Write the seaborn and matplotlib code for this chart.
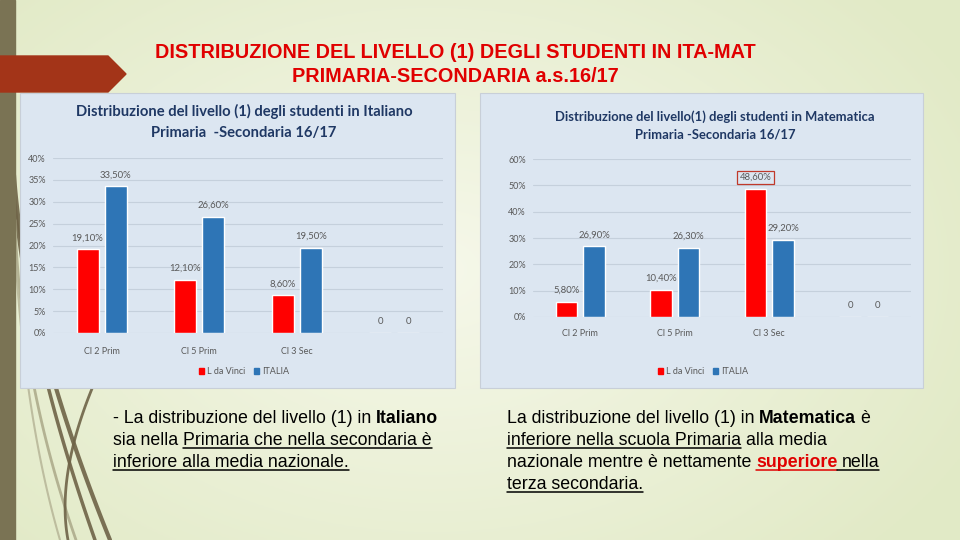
import numpy as np
import pandas as pd
import matplotlib
matplotlib.use("Agg")
import matplotlib.pyplot as plt
import seaborn as sns
from matplotlib.patches import Rectangle, Polygon
from matplotlib.lines import Line2D
from matplotlib.ticker import FuncFormatter, MultipleLocator

# ---- data ----
categories = ["Cl 2 Prim", "Cl 5 Prim", "Cl 3 Sec", ""]
series_names = ["L da Vinci", "ITALIA"]

ita_school = [19.1, 12.1, 8.6, 0]
ita_italia = [33.5, 26.6, 19.5, 0]

mat_school = [5.8, 10.4, 48.6, 0]
mat_italia = [26.9, 26.3, 29.2, 0]

ita_title = "Distribuzione del livello (1) degli studenti in Italiano\nPrimaria  -Secondaria 16/17"
mat_title = "Distribuzione del livello(1) degli studenti in Matematica\nPrimaria -Secondaria 16/17"

slide_title = ["DISTRIBUZIONE DEL LIVELLO (1) DEGLI STUDENTI IN ITA-MAT",
               "PRIMARIA-SECONDARIA a.s.16/17"]

RED = "#ff0000"
BLUE = "#2e75b6"
PANEL = "#dce6f1"
GRAY = "#595959"
NAVY = "#1f3864"

sns.set_theme(style="white")
plt.rcParams["font.family"] = ["Lato", "DejaVu Sans"]

W, H = 960, 540
fig = plt.figure(figsize=(9.6, 5.4), dpi=100)

# background gradient
bg = fig.add_axes([0, 0, 1, 1], zorder=-10)
yy, xx = np.mgrid[0:1:200j, 0:1:360j]
d = np.sqrt(((xx - 0.45) * 1.2) ** 2 + (yy - 0.5) ** 2)
d = np.clip(d / 0.75, 0, 1)
c0 = np.array([0.965, 0.973, 0.918])
c1 = np.array([0.886, 0.918, 0.780])
img = c0[None, None, :] * (1 - d[..., None]) + c1[None, None, :] * d[..., None]
bg.imshow(img, extent=[0, 1, 0, 1], aspect="auto", origin="lower")
bg.set_axis_off()


def fx(px):
    return px / W


def fy(py):
    return 1 - py / H


# left olive strip and red arrow
fig.add_artist(Rectangle((0, 0), fx(15), 1, transform=fig.transFigure,
                         color="#7a7354", zorder=2))
fig.add_artist(Polygon([(0, fy(56)), (fx(108), fy(56)), (fx(126), fy(74)),
                        (fx(108), fy(92)), (0, fy(92))], closed=True,
                       transform=fig.transFigure, color="#a33418", zorder=2))

# decorative strands (slide theme ornament)
t = np.linspace(0, 1, 80)
strands = [((14, 175), (25, 330), (110, 540), 3.0, "#6e6347"),
           ((14, 195), (28, 350), (95, 540), 2.5, "#6e6347"),
           ((15, 220), (20, 380), (76, 540), 2.0, "#aeac8c"),
           ((100, 370), (55, 470), (68, 540), 2.0, "#6e6347"),
           ((15, 250), (25, 420), (60, 540), 1.5, "#b9b89a")]
for p0, p1, p2, lw, col in strands:
    px = (1 - t) ** 2 * p0[0] + 2 * (1 - t) * t * p1[0] + t ** 2 * p2[0]
    py = (1 - t) ** 2 * p0[1] + 2 * (1 - t) * t * p1[1] + t ** 2 * p2[1]
    fig.add_artist(Line2D(fx(px), fy(py), transform=fig.transFigure,
                          color=col, lw=lw, alpha=0.9, zorder=1))

# slide title
for i, line in enumerate(slide_title):
    fig.text(fx(455), fy(52 + 24 * i), line, ha="center", va="center",
             color="#e00000", fontsize=14.3, fontweight="bold",
             family=["Liberation Sans", "DejaVu Sans"], zorder=3)

# chart panels
for x0, x1 in [(20, 455), (480, 923)]:
    fig.add_artist(Rectangle((fx(x0), fy(388)), fx(x1 - x0), (388 - 93) / H,
                             transform=fig.transFigure, facecolor=PANEL,
                             edgecolor="#c8cfd8", lw=0.8, zorder=3))


def fmt_label(v):
    if v == 0:
        return "0"
    return f"{v:.2f}%".replace(".", ",")


def draw_chart(rect, school, italia, ymax, step, title, title_xy, title_size,
               legend_xy, xpad):
    ax = fig.add_axes(rect, zorder=5)
    ax.patch.set_alpha(0)
    df = pd.DataFrame({
        "cat": categories * 2,
        "val": list(school) + list(italia),
        "serie": [series_names[0]] * len(categories) + [series_names[1]] * len(categories),
    })
    sns.barplot(data=df, x="cat", y="val", hue="serie", order=categories,
                palette=[RED, BLUE], width=0.58, gap=0.22, saturation=1,
                ax=ax, legend=False)
    ax.set_ylim(0, ymax)
    ax.yaxis.set_major_locator(MultipleLocator(step))
    ax.yaxis.set_major_formatter(FuncFormatter(lambda v, p: f"{v:.0f}%"))
    ax.grid(axis="y", color="#c5d0dc", lw=0.8)
    ax.set_axisbelow(True)
    for s in ax.spines.values():
        s.set_visible(False)
    ax.tick_params(length=0, labelsize=6.5, colors=GRAY)
    ax.tick_params(axis="y", pad=5)
    ax.tick_params(axis="x", pad=xpad)
    ax.set_xlabel("")
    ax.set_ylabel("")
    top = max(max(school), max(italia))
    for cont, vals in zip(ax.containers, [school, italia]):
        anns = ax.bar_label(cont, labels=[fmt_label(v) for v in vals],
                            padding=5, fontsize=6.8, color=GRAY)
        for a, v in zip(anns, vals):
            if v == top and ymax >= 60:
                a.set_bbox(dict(boxstyle="square,pad=0.25", fc="none",
                                ec="#c0392b", lw=0.9))
    fig.text(fx(title_xy[0]), fy(title_xy[1]), title, ha="center", va="center",
             fontsize=title_size, fontweight="bold", color=NAVY, linespacing=1.6,
             zorder=6)
    handles = [Rectangle((0, 0), 1, 1, color=c) for c in [RED, BLUE]]
    ax.legend(handles, series_names, loc="center",
              bbox_to_anchor=(fx(legend_xy[0]), fy(legend_xy[1])),
              bbox_transform=fig.transFigure, ncol=2, frameon=False,
              handlelength=0.6, handleheight=0.6, handletextpad=0.3,
              columnspacing=1.0, fontsize=6.5, labelcolor=GRAY)
    return ax


draw_chart([fx(53), fy(333), fx(443 - 53), (333 - 158) / H],
           ita_school, ita_italia, 40, 5, ita_title, (244, 122), 10.6, (244, 372), 10)
draw_chart([fx(533), fy(317), fx(911 - 533), (317 - 159) / H],
           mat_school, mat_italia, 60, 10, mat_title, (715, 125.5), 9.4, (703, 372), 9)

# ---- commentary text with underlines ----
renderer = fig.canvas.get_renderer()
TXT_FAM = ["Liberation Sans", "DejaVu Sans"]
TXT_SIZE = 12.8


def text_width(s, bold):
    tt = fig.text(0, 0, s, fontsize=TXT_SIZE, family=TXT_FAM,
                  fontweight="bold" if bold else "normal")
    w = tt.get_window_extent(renderer).width
    tt.remove()
    return w


SPACE = text_width("a a", False) - text_width("aa", False)


def rich_line(x_px, y_px, parts):
    x = x_px
    for txt, bold, color, under in parts:
        lead = len(txt) - len(txt.lstrip(" "))
        trail = len(txt) - len(txt.rstrip(" "))
        core = txt.strip(" ")
        start = x
        x += lead * SPACE
        fig.text(fx(x), fy(y_px), core, fontsize=TXT_SIZE, family=TXT_FAM,
                 fontweight="bold" if bold else "normal", color=color,
                 va="baseline", zorder=6)
        x += text_width(core, bold) - (1 if bold else 0) + trail * SPACE
        if under:
            end = x - trail * SPACE
            fig.add_artist(Line2D([fx(start), fx(end)], [fy(y_px + 2.5)] * 2,
                                  transform=fig.transFigure, color=color,
                                  lw=1.1, zorder=6))


K = "black"
left_lines = [
    [("- La distribuzione del livello (1) in ", False, K, False), ("Italiano", True, K, False)],
    [("sia nella ", False, K, False), ("Primaria che nella secondaria è", False, K, True)],
    [("inferiore alla media nazionale.", False, K, True)],
]
right_lines = [
    [("La distribuzione del livello (1) in ", False, K, False), ("Matematica", True, K, False),
     (" è", False, K, False)],
    [("inferiore nella scuola Primaria", False, K, True), (" alla media", False, K, False)],
    [("nazionale mentre è nettamente ", False, K, False), ("superiore", True, "#e00000", True),
     (" nella", False, K, True)],
    [("terza secondaria.", False, K, True)],
]
for i, parts in enumerate(left_lines):
    rich_line(113, 423 + 22 * i, parts)
for i, parts in enumerate(right_lines):
    rich_line(507, 423 + 22 * i, parts)

fig.savefig("out.png", dpi=100)
